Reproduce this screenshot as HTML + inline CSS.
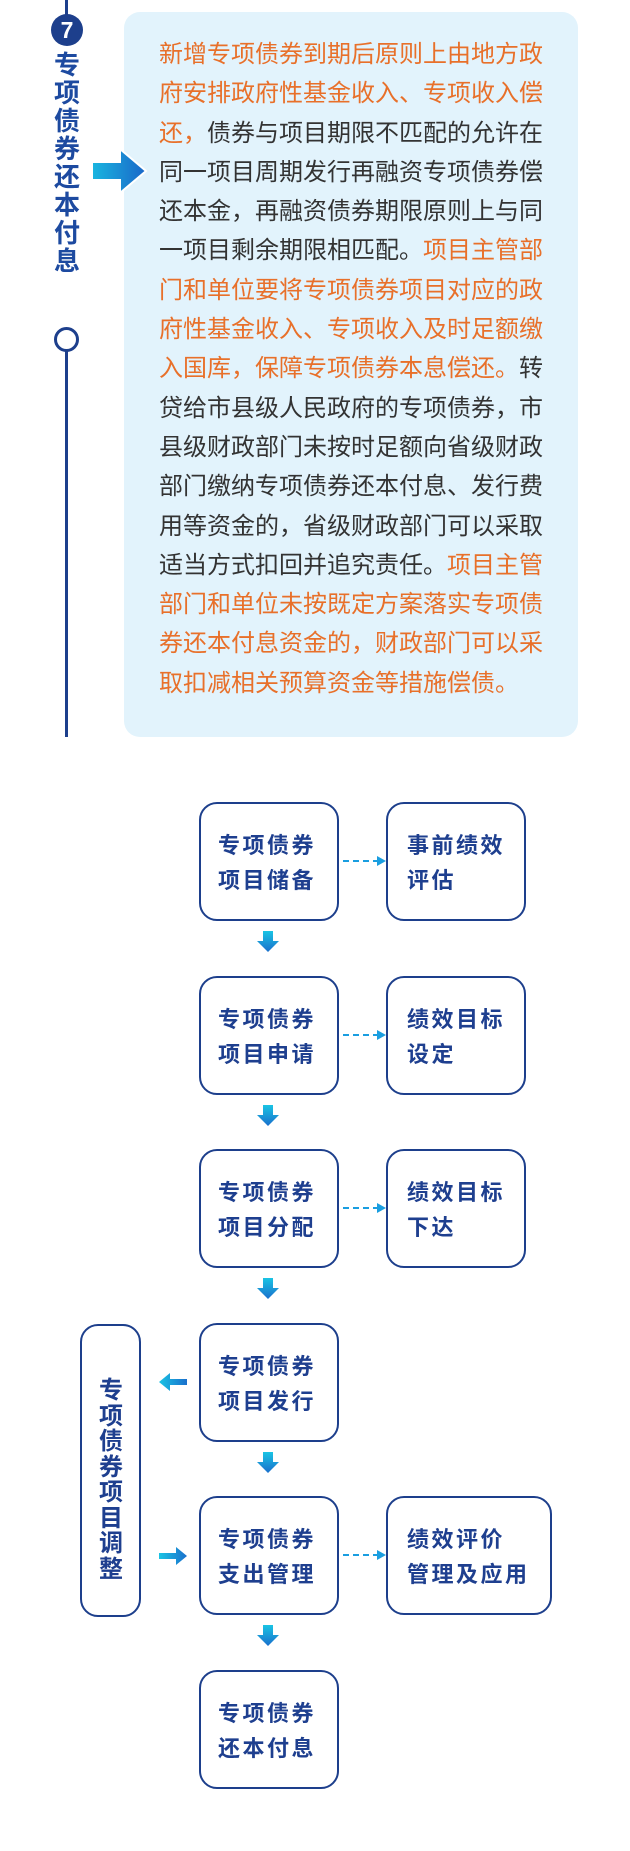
<!DOCTYPE html>
<html><head><meta charset="utf-8"><style>
*{margin:0;padding:0;box-sizing:border-box}
body{width:630px;height:1851px;background:#fff;position:relative;overflow:hidden;font-family:"Liberation Sans","Noto Sans CJK SC",sans-serif}
.abs{position:absolute}
.box{position:absolute;border:2px solid #1d3f8c;border-radius:18px;background:#fff;color:#1e3f8f;font-weight:bold;font-size:22px;letter-spacing:2.5px;line-height:35px;height:119px;padding-top:24px}
.main{left:199px;width:140px;padding-left:17px}
.side{left:386px;width:140px;padding-left:19px}
.down{position:absolute;left:257px;width:22px;height:22px}
.dash{position:absolute;left:341px;width:46px;height:10px}
.txt{position:absolute;left:159px;top:35px;width:392px;font-size:24px;line-height:39.3px;color:#333}
.o{color:#e8702a}
</style></head><body>
<div class="abs" style="left:65px;top:0;width:3px;height:16px;background:#1d3f8c"></div>
<div class="abs" style="left:51px;top:14px;width:32px;height:32px;border-radius:50%;background:#1d3f8c;color:#fff;font-weight:bold;font-size:23px;text-align:center;line-height:32px">7</div>
<div class="abs" style="left:52px;top:51px;width:30px;font-size:26px;line-height:28px;font-weight:bold;color:#1d4aa0;text-align:center">专<br>项<br>债<br>券<br>还<br>本<br>付<br>息</div>
<div class="abs" style="left:54px;top:327px;width:25px;height:25px;border:3px solid #1d3f8c;border-radius:50%"></div>
<div class="abs" style="left:65px;top:351px;width:3px;height:386px;background:#1d3f8c"></div>
<div class="abs" style="left:124px;top:12px;width:454px;height:725px;background:#e2f3fc;border-radius:16px"></div>
<svg class="abs" style="left:92px;top:146px" width="56" height="50"><defs><linearGradient id="g" x1="0" x2="1"><stop offset="0" stop-color="#19b6e0"/><stop offset="1" stop-color="#1a66c8"/></linearGradient></defs><polygon points="0,16 28,16 28,3 54,25 28,47 28,34 0,34" fill="url(#g)" stroke="#fff" stroke-width="2"/></svg>
<div class="txt"><span class="o">新增专项债券到期后原则上由地方政府安排政府性基金收入、专项收入偿还，</span>债券与项目期限不匹配的允许在同一项目周期发行再融资专项债券偿还本金，再融资债券期限原则上与同一项目剩余期限相匹配。<span class="o">项目主管部门和单位要将专项债券项目对应的政府性基金收入、专项收入及时足额缴入国库，保障专项债券本息偿还。</span>转贷给市县级人民政府的专项债券，市县级财政部门未按时足额向省级财政部门缴纳专项债券还本付息、发行费用等资金的，省级财政部门可以采取适当方式扣回并追究责任。<span class="o">项目主管部门和单位未按既定方案落实专项债券还本付息资金的，财政部门可以采取扣减相关预算资金等措施偿债。</span></div>

<div class="box main" style="top:802px">专项债券<br>项目储备</div>
<div class="box main" style="top:976px">专项债券<br>项目申请</div>
<div class="box main" style="top:1149px">专项债券<br>项目分配</div>
<div class="box main" style="top:1323px">专项债券<br>项目发行</div>
<div class="box main" style="top:1496px">专项债券<br>支出管理</div>
<div class="box main" style="top:1670px">专项债券<br>还本付息</div>
<div class="box side" style="top:802px">事前绩效<br>评估</div>
<div class="box side" style="top:976px">绩效目标<br>设定</div>
<div class="box side" style="top:1149px">绩效目标<br>下达</div>
<div class="box side" style="top:1496px;width:166px">绩效评价<br>管理及应用</div>
<div class="box" style="left:80px;top:1324px;width:61px;height:293px"></div>
<div class="abs" style="left:97px;top:1378px;width:28px;font-size:24px;line-height:25.5px;font-weight:bold;color:#1e3f8f;text-align:center">专<br>项<br>债<br>券<br>项<br>目<br>调<br>整</div>

<svg width="0" height="0" style="position:absolute"><defs><linearGradient id="v" x1="0" y1="0" x2="0" y2="1"><stop offset="0" stop-color="#1ac4e4"/><stop offset="1" stop-color="#1a6fcc"/></linearGradient><linearGradient id="h" x1="0" x2="1"><stop offset="0" stop-color="#1ac4e4"/><stop offset="1" stop-color="#1a6fcc"/></linearGradient></defs></svg>
<svg class="down" style="top:931px"><polygon points="6,0 16,0 16,10 22,10 11,21 0,10 6,10" fill="url(#v)"/></svg>
<svg class="down" style="top:1105px"><polygon points="6,0 16,0 16,10 22,10 11,21 0,10 6,10" fill="url(#v)"/></svg>
<svg class="down" style="top:1278px"><polygon points="6,0 16,0 16,10 22,10 11,21 0,10 6,10" fill="url(#v)"/></svg>
<svg class="down" style="top:1452px"><polygon points="6,0 16,0 16,10 22,10 11,21 0,10 6,10" fill="url(#v)"/></svg>
<svg class="down" style="top:1625px"><polygon points="6,0 16,0 16,10 22,10 11,21 0,10 6,10" fill="url(#v)"/></svg>
<svg class="dash" style="top:856px"><line x1="2" y1="5" x2="36" y2="5" stroke="#1a9ee0" stroke-width="2" stroke-dasharray="6,4"/><polygon points="36,0 45,5 36,10" fill="#1a9ee0"/></svg>
<svg class="dash" style="top:1030px"><line x1="2" y1="5" x2="36" y2="5" stroke="#1a9ee0" stroke-width="2" stroke-dasharray="6,4"/><polygon points="36,0 45,5 36,10" fill="#1a9ee0"/></svg>
<svg class="dash" style="top:1203px"><line x1="2" y1="5" x2="36" y2="5" stroke="#1a9ee0" stroke-width="2" stroke-dasharray="6,4"/><polygon points="36,0 45,5 36,10" fill="#1a9ee0"/></svg>
<svg class="dash" style="top:1550px"><line x1="2" y1="5" x2="36" y2="5" stroke="#1a9ee0" stroke-width="2" stroke-dasharray="6,4"/><polygon points="36,0 45,5 36,10" fill="#1a9ee0"/></svg>
<svg class="abs" style="left:159px;top:1373px" width="28" height="18"><polygon points="0,9 11,0 11,6 28,6 28,12 11,12 11,18" fill="url(#h)"/></svg>
<svg class="abs" style="left:159px;top:1547px" width="28" height="18"><polygon points="28,9 17,0 17,6 0,6 0,12 17,12 17,18" fill="url(#h)"/></svg>
</body></html>
